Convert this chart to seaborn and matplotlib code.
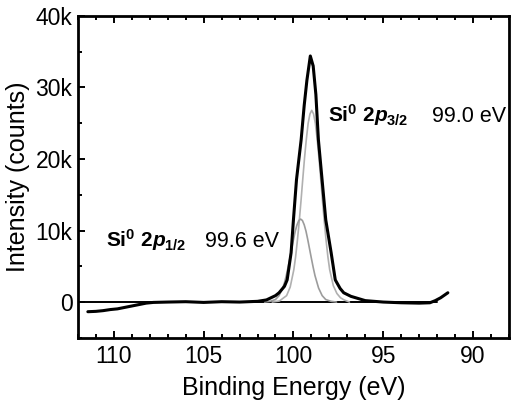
import numpy as np
import matplotlib
matplotlib.use("Agg")
import matplotlib.pyplot as plt
import seaborn as sns
from matplotlib.ticker import MultipleLocator, FuncFormatter

# measured envelope (black), binding energy in eV, intensity in k counts
env_x = [111.45, 111.0, 110.6, 110.2, 109.8, 109.4, 109.0, 108.6, 108.2, 107.8,
         107.0, 106.0, 105.0, 104.0, 103.0, 102.0, 101.5, 101.0, 100.8, 100.5,
         100.35, 100.13, 100.0, 99.83, 99.57, 99.4, 99.25, 99.06, 98.9, 98.75,
         98.61, 98.42, 98.2, 97.9, 97.67, 97.4, 97.2, 96.8, 96.4, 96.0,
         95.0, 94.0, 93.0, 92.4, 92.1, 91.8, 91.4]
env_y = [-1.35, -1.3, -1.2, -1.05, -0.95, -0.75, -0.55, -0.35, -0.15, -0.05,
         0.0, 0.05, -0.05, 0.05, 0.0, 0.1, 0.3, 0.9, 1.3, 2.2,
         3.1, 6.9, 11.5, 17.1, 22.7, 27.5, 31.0, 34.4, 33.0, 29.0,
         22.7, 17.5, 11.5, 6.9, 3.1, 1.9, 1.3, 0.8, 0.5, 0.2,
         0.0, -0.1, -0.15, -0.1, 0.2, 0.6, 1.3]

# fitted components (grey)
p32_x = [101.18, 100.78, 100.38, 100.18, 99.98, 99.88, 99.78, 99.68, 99.58, 99.48,
         99.38, 99.28, 99.18, 99.08, 98.98, 98.88, 98.78, 98.68, 98.58, 98.48,
         98.38, 98.28, 98.18, 98.08, 97.98, 97.78, 97.58, 97.38, 97.18, 96.88]
p32_y = [0.0, 0.15, 0.9, 2.1, 4.5, 6.3, 8.6, 11.2, 14.1, 17.2,
         20.2, 22.8, 25.0, 26.3, 26.8, 26.3, 25.0, 22.8, 20.2, 17.2,
         14.1, 11.2, 8.6, 6.3, 4.5, 2.3, 1.2, 0.6, 0.3, 0.0]

p12_x = [101.6, 101.3, 101.0, 100.8, 100.6, 100.5, 100.4, 100.3, 100.2, 100.1,
         100.0, 99.9, 99.8, 99.7, 99.6, 99.5, 99.4, 99.3, 99.2, 99.1,
         99.0, 98.9, 98.8, 98.6, 98.4, 98.2, 97.9, 97.6]
p12_y = [0.0, 0.1, 0.35, 0.9, 1.96, 2.7, 3.7, 4.85, 6.1, 7.4,
         8.7, 9.9, 10.8, 11.4, 11.6, 11.4, 10.8, 9.9, 8.7, 7.4,
         6.1, 4.85, 3.7, 1.96, 0.9, 0.35, 0.1, 0.0]

base_x = [112.0, 92.0]
base_y = [0.0, 0.0]

sns.set_style("ticks")
plt.rcParams["font.family"] = ["Liberation Sans", "DejaVu Sans"]
plt.rcParams["text.color"] = "black"
plt.rcParams["axes.labelcolor"] = "black"
plt.rcParams["mathtext.fontset"] = "custom"
plt.rcParams["mathtext.rm"] = "Liberation Sans:bold"
plt.rcParams["mathtext.bf"] = "Liberation Sans:bold"
plt.rcParams["mathtext.it"] = "Liberation Sans:italic:bold"

fig = plt.figure(figsize=(5.13, 4.08), dpi=100)
ax = fig.add_axes([0.152, 0.172, 0.840, 0.789])

k = 1000.0
sns.lineplot(x=base_x, y=np.array(base_y) * k, ax=ax, color="black", lw=1.4,
             sort=False, estimator=None)
sns.lineplot(x=p32_x, y=np.array(p32_y) * k, ax=ax, color="#b0b0b0", lw=1.2,
             sort=False, estimator=None)
sns.lineplot(x=p12_x, y=np.array(p12_y) * k, ax=ax, color="#9c9c9c", lw=1.2,
             sort=False, estimator=None)
sns.lineplot(x=env_x, y=np.array(env_y) * k, ax=ax, color="black", lw=2.2,
             sort=False, estimator=None, solid_joinstyle="round")

ax.set_xlim(112, 88)
ax.set_ylim(-5000, 40000)
ax.xaxis.set_major_locator(MultipleLocator(5))
ax.xaxis.set_minor_locator(MultipleLocator(1))
ax.yaxis.set_major_locator(MultipleLocator(10000))
ax.yaxis.set_minor_locator(MultipleLocator(5000))
ax.yaxis.set_major_formatter(FuncFormatter(lambda v, p: "0" if v == 0 else f"{int(v/1000)}k"))
ax.xaxis.set_major_formatter(FuncFormatter(lambda v, p: f"{int(v)}"))

ax.tick_params(axis="both", which="both", direction="in", colors="black",
               width=1.4)
ax.tick_params(axis="x", which="both", top=True, bottom=True)
ax.tick_params(axis="y", which="both", left=True, right=False)
ax.tick_params(which="major", length=5, labelsize=16.5)
ax.tick_params(which="minor", length=3)
ax.tick_params(axis="x", pad=5)
ax.tick_params(axis="y", pad=4)
for s in ax.spines.values():
    s.set_linewidth(2.0)
    s.set_color("black")
    s.set_visible(True)

ax.set_xlabel("Binding Energy (eV)", fontsize=18, labelpad=6)
ax.set_ylabel("Intensity (counts)", fontsize=18, labelpad=4)

ax.text(110.44, 7700, r"Si$^{0}$ 2$p_{\mathit{1/2}}$", fontsize=15,
        fontweight="bold", va="baseline", ha="left")
ax.text(104.9, 7700, "99.6 eV", fontsize=15.5, va="baseline", ha="left")
ax.text(98.1, 25200, r"Si$^{0}$ 2$p_{\mathit{3/2}}$", fontsize=15,
        fontweight="bold", va="baseline", ha="left")
ax.text(92.3, 25200, "99.0 eV", fontsize=15.5, va="baseline", ha="left")

fig.savefig("out.png", dpi=100)
